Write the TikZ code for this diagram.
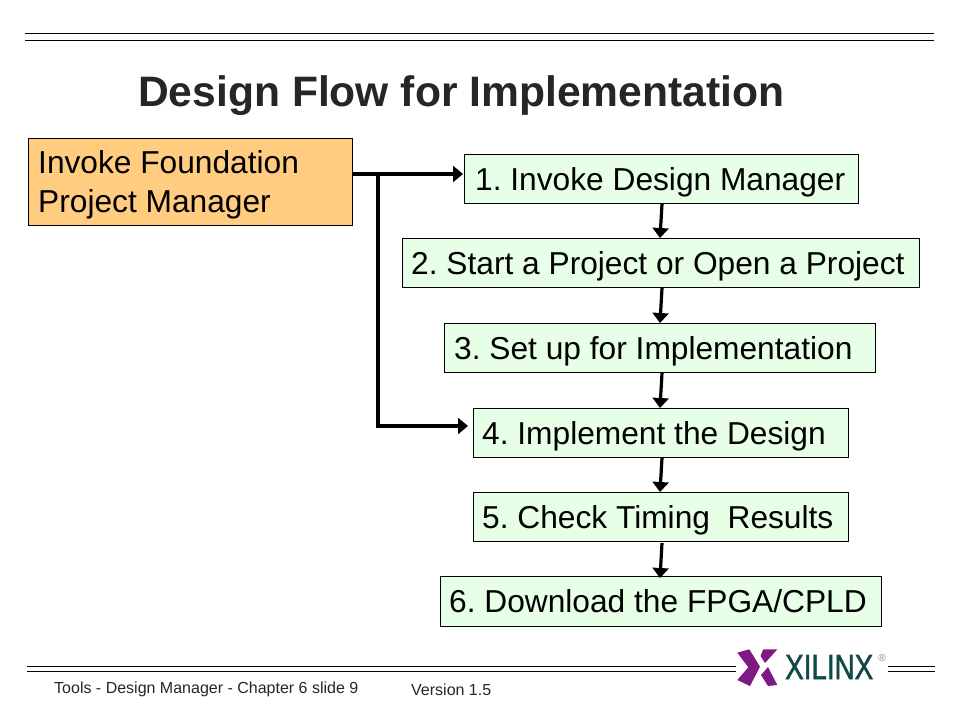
\documentclass[tikz,border=0pt]{standalone}
\usepackage{fontspec}
\setmainfont{Liberation Sans}
\newfontfamily\logofont[FakeBold=1.6]{Liberation Sans}
\usetikzlibrary{arrows.meta}
\definecolor{boxgreen}{HTML}{E6FFE6}
\definecolor{boxorange}{HTML}{FFCC80}
\definecolor{xpurple}{HTML}{7F1A85}
\definecolor{xteal}{HTML}{0F4A45}
\tikzset{
  x=1pt,y=-1pt,
  stepbox/.style={draw=black,line width=1pt,fill=boxgreen,inner sep=0pt,anchor=north west},
  lab/.style={anchor=base west,inner sep=0pt,font=\fontsize{31.7}{38}\selectfont},
  rule/.style={line width=1.5pt,black},
  flow/.style={line width=3.2pt,-{Triangle[length=10pt,width=16pt]}},
  link/.style={line width=3.2pt},
}
\begin{document}
\frenchspacing
\begin{tikzpicture}
\useasboundingbox (0,0) rectangle (960,720);
\fill[white] (0,0) rectangle (960,720);
% rules
\coordinate (t1a) at (25,33.5); \coordinate (t1b) at (934,33.5);
\coordinate (t2a) at (25,40.5); \coordinate (t2b) at (934,40.5);
\draw[rule] (t1a) -- (t1b);
\draw[rule] (t2a) -- (t2b);
\coordinate (b1a) at (27,666.5); \coordinate (b1b) at (736,666.5);
\coordinate (b2a) at (27,671.5); \coordinate (b2b) at (736,671.5);
\coordinate (b3a) at (888,666.5); \coordinate (b3b) at (935,666.5);
\coordinate (b4a) at (888,671.5); \coordinate (b4b) at (935,671.5);
\draw[rule] (b1a) -- (b1b);
\draw[rule] (b2a) -- (b2b);
\draw[rule] (b3a) -- (b3b);
\draw[rule] (b4a) -- (b4b);
% title
\node[anchor=base west,inner sep=0pt,font=\bfseries\fontsize{42.6}{50}\selectfont,text=black!85] (title) at (138,106) {Design Flow for Implementation};
% boxes
\node[stepbox,fill=boxorange,minimum width=323.5pt,minimum height=87pt] (start) at (28,138) {};
\node[lab] (startA) at (38,173) {Invoke Foundation};
\node[lab] (startB) at (38,212) {Project Manager};
\node[stepbox,minimum width=394.5pt,minimum height=49pt] (s1) at (463.5,154) {};
\node[stepbox,minimum width=517pt,minimum height=49pt] (s2) at (401.5,238) {};
\node[stepbox,minimum width=431.5pt,minimum height=49pt] (s3) at (443.5,323) {};
\node[stepbox,minimum width=375.5pt,minimum height=49pt] (s4) at (472.5,408) {};
\node[stepbox,minimum width=375.5pt,minimum height=49pt] (s5) at (472.5,492) {};
\node[stepbox,minimum width=441.5pt,minimum height=50pt] (s6) at (439.5,576) {};
\node[lab] (l1) at (475,190) {1. Invoke Design Manager};
\node[lab] (l2) at (411,274) {2. Start a Project or Open a Project};
\node[lab] (l3) at (454,359) {3. Set up for Implementation};
\node[lab] (l4) at (482,444) {4. Implement the Design};
\node[lab] (l5) at (482,528) {5. Check Timing\ \ Results};
\node[lab] (l6) at (449,612) {6. Download the FPGA/CPLD};
% connectors
\coordinate (j1) at (378,174);
\coordinate (j2) at (378,426);
\coordinate (a1) at (463,174);
\coordinate (a4) at (468,426);
\coordinate (m1) at (662,204); \coordinate (m2) at (662,288); \coordinate (m3) at (662,373);
\coordinate (m4) at (662,458); \coordinate (m5) at (662,543);
\coordinate (n2) at (660,238); \coordinate (n3) at (660,323); \coordinate (n4) at (660,408);
\coordinate (n5) at (660,492); \coordinate (n6) at (660,578);
\draw[flow] (start.east |- j1) -- (a1);
\draw[link] (378,172.4) -- (j2);
\draw[flow] (376.4,426) -- (a4);
\draw[flow] (m1) -- (n2);
\draw[flow] (m2) -- (n3);
\draw[flow] (m3) -- (n4);
\draw[flow] (m4) -- (n5);
\draw[flow] (m5) -- (n6);
% footer
\node[anchor=base west,inner sep=0pt,font=\fontsize{16}{20}\selectfont,text=black!85] (f1) at (54,693) {Tools\ - Design Manager - Chapter 6 slide 9};
\node[anchor=base west,inner sep=0pt,font=\fontsize{16}{20}\selectfont,text=black!85] (f2) at (411,695) {Version 1.5};
% logo
\fill[xpurple] (737.3,652.7) -- (749.3,649.3) -- (760,666.7) -- (750,686) -- (737.3,680) -- (748.3,667.3) -- cycle;
\fill[xpurple] (763.3,649.3) -- (777.3,649.3) -- (765,663) -- (760.5,656) -- cycle;
\fill[xpurple] (761,675) -- (768,667) -- (777.3,685) -- (768,686) -- cycle;
\node[anchor=base west,inner sep=0pt,text=xteal] (xil) at (785,679) {\resizebox{88pt}{24pt}{\logofont XILINX}};
\node[anchor=center,inner sep=0pt,font=\fontsize{10}{12}\selectfont,text=gray] (reg) at (882,658) {®};
\end{tikzpicture}
\end{document}
